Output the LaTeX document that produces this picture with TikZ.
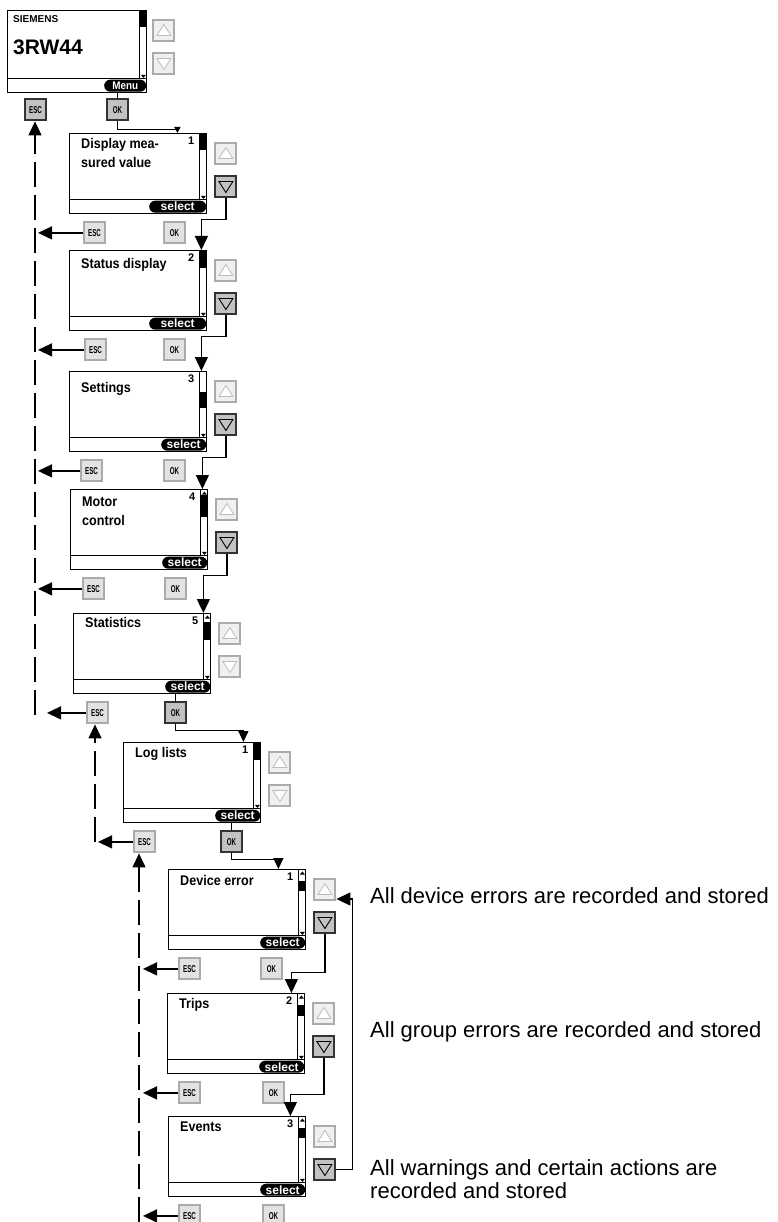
\documentclass[tikz,border=0pt]{standalone}
\usepackage{fontspec}
\setmainfont{Liberation Sans}
\newfontfamily\lcdfont[FakeStretch=0.9]{Liberation Sans Bold}
\newfontfamily\keyfont[FakeStretch=0.62]{Liberation Sans Bold}
\newfontfamily\boldfont{Liberation Sans Bold}
\usetikzlibrary{arrows.meta,calc,positioning}
\newcommand\sz[1]{\fontsize{#1}{#1}\selectfont}
\definecolor{rimgray}{HTML}{ABABAB}
\definecolor{keygray}{HTML}{E2E2E2}
\definecolor{ongray}{HTML}{C2C2C2}
\definecolor{ondark}{HTML}{333333}
\tikzset{bigpin/.style={line width=1.3pt, -{Triangle[length=14pt,width=13pt]}},
  midpin/.style={line width=1.3pt, -{Triangle[length=11pt,width=10pt]}},
  smallpin/.style={line width=1.3pt, -{Triangle[length=6pt,width=6pt]}},
  link/.style={line width=1.3pt},
  backline/.style={line width=1.2pt, dash pattern=on 25pt off 8pt},
  lcd/.style={draw, line width=1.4pt, anchor=north west, minimum width=137pt, minimum height=80pt, inner sep=0pt},
  title/.style={inner sep=0pt, align=left, font=\lcdfont\fontsize{14}{19}\selectfont},
  num/.style={inner sep=0pt, font=\boldfont\sz{11}},
  selpill/.style={fill=black, text=white, rounded corners=6pt, minimum height=12pt, inner sep=0pt, font=\boldfont\sz{12}},
  key/.style={draw=rimgray, fill=keygray, line width=2pt, minimum size=21pt, inner sep=0pt, font=\keyfont\sz{10}},
  keyon/.style={key, draw=ondark, fill=ongray},
  tri/.style={draw=rimgray!80, line width=0.8pt, fill=white},
  arrkey/.style={draw=rimgray, fill=white!94!black, line width=2pt, minimum size=21pt, inner sep=0pt},
  upkey/.style={arrkey, path picture={\draw[tri] ([shift={(-7pt,-5pt)}]path picture bounding box.center) -- ([shift={(7pt,-5pt)}]path picture bounding box.center) -- ([shift={(0pt,6pt)}]path picture bounding box.center) -- cycle;}},
  dnkey/.style={arrkey, path picture={\draw[tri] ([shift={(-7pt,5pt)}]path picture bounding box.center) -- ([shift={(7pt,5pt)}]path picture bounding box.center) -- ([shift={(0pt,-6pt)}]path picture bounding box.center) -- cycle;}},
  dnkeyon/.style={dnkey, draw=ondark, fill=ongray, tri/.style={draw=black, line width=0.9pt, fill=ongray}},
  note/.style={inner sep=0pt, align=left, font=\fontsize{22}{23}\selectfont}}

\begin{document}
\begin{tikzpicture}[x=1pt,y=1pt]
  \useasboundingbox (0,0) rectangle (777,-1222);
  % start screen
  \node[lcd, minimum width=139pt, minimum height=82pt] (s0) at (7,-10) {};
  \node[inner sep=0pt, font=\boldfont\sz{10}, below right=5pt and 6pt of s0.north west] (brand) {SIEMENS};
  \node[inner sep=0pt, font=\boldfont\sz{21}, below right=30pt and 6pt of s0.north west] (model) {3RW44};
  \node[selpill, minimum width=42pt, font=\lcdfont\sz{11}, above left=1.5pt and 1pt of s0.south east] (menu) {Menu};
  \node[upkey, below right=9pt and 5pt of s0.north east] (up0) {};
  \node[dnkey, below=10pt of up0] (dn0) {};
  \node[keyon, below right=5pt and 17pt of s0.south west] (esc0) {ESC};
  \node[keyon, below right=5pt and 99pt of s0.south west] (ok0) {OK};
  % menu screens
  \node[lcd] (s1) at (69,-133) {};
  \node[lcd] (s2) at (69,-250) {};
  \node[lcd] (s3) at (69,-371) {};
  \node[lcd] (s4) at (70,-489) {};
  \node[lcd] (s5) at (73,-613) {};
  \node[lcd] (s6) at (123,-742) {};
  \node[lcd] (s7) at (168,-869) {};
  \node[lcd] (s8) at (167,-993) {};
  \node[lcd] (s9) at (168,-1116) {};
  % scroll column and bottom strip
  \foreach \i in {0,...,9}{
    \draw[line width=1.2pt] ($(s\i.south west)+(0,15)$) -- ($(s\i.south east)+(0,15)$);
    \draw[line width=1.2pt] ($(s\i.north east)+(-8,0)$) -- ($(s\i.south east)+(-8,15)$);
    \fill ($(s\i.south east)+(-6.5,18.5)$) -- ++(5,0) -- ++(-2.5,-3) -- cycle;}
  \foreach \i/\a/\b in {0/0/17, 1/0/17, 2/0/18, 3/21/16, 4/6/22, 5/9/18, 6/0/18, 7/12/10, 8/12/11, 9/12/10}
    \fill ($(s\i.north east)+(-8,-\a)$) rectangle ++(8,-\b);
  \foreach \i in {4,5,7,8,9}
    \fill ($(s\i.north east)+(-6.5,-5.5)$) -- ++(5,0) -- ++(-2.5,3) -- cycle;
  \foreach \i/\ty/\txt/\nr in {1/5pt/{Display mea-\\sured value}/1, 2/8pt/{Status display}/2, 3/11pt/Settings/3,
      4/8pt/{Motor\\control}/4, 5/4pt/Statistics/5, 6/5pt/{Log lists}/1, 7/6pt/{Device error}/1, 8/5pt/Trips/2, 9/6pt/Events/3}{
    \node[title, below right=\ty and 12pt of s\i.north west] (ttl\i) {\txt};
    \node[num, below left=4pt and 13pt of s\i.north east] (nr\i) {\nr};}
  % keys
  \foreach \i/\sw/\ds/\os/\ex/\ox in {1/57pt/dnkeyon/key/14pt/94pt, 2/57pt/dnkeyon/key/15pt/94pt, 3/45pt/dnkeyon/key/11pt/94pt,
      4/45pt/dnkeyon/key/12pt/94pt, 5/45pt/dnkey/keyon/13pt/91pt, 6/45pt/dnkey/keyon/10pt/97pt,
      7/45pt/dnkeyon/key/10pt/92pt, 8/45pt/dnkeyon/key/11pt/95pt, 9/45pt/dnkeyon/key/10pt/94pt}{
    \node[selpill, minimum width=\sw, above left=1.5pt and 1pt of s\i.south east] (sel\i) {select};
    \node[upkey, below right=9pt and 7pt of s\i.north east] (up\i) {};
    \node[\ds, below=10pt of up\i] (dn\i) {};
    \node[key, below right=7pt and \ex of s\i.south west] (esc\i) {ESC};
    \node[\os, below right=7pt and \ox of s\i.south west] (ok\i) {OK};}
  % OK opens the next level
  \draw[link] (ok0.north) -- (ok0.north |- menu.south);
  \draw[smallpin] (ok0.south) -- ++(0,-8) -| ($(s1.north east)+(-30,0)$);
  \draw[link] (ok5.north) -- (ok5.north |- sel5.south);
  \draw[midpin] (ok5.south) -- ++(0,-6) -| ($(s6.north east)+(-18,0)$);
  \draw[link] (ok6.north) -- (ok6.north |- sel6.south);
  \draw[midpin] (ok6.south) -- ++(0,-6) -| ($(s7.north east)+(-28,0)$);
  % down key to next entry
  \foreach \a/\b/\g/\h in {1/2/5/6, 2/3/5/6, 3/4/5/6, 4/5/5/8, 7/8/22/14, 8/9/20/16}
    \draw[bigpin] (dn\a.south) |- ($(s\a.south east)+(0,-\g)$) -| ($(s\b.north east)+(-\h,0)$);
  \draw[bigpin] (dn9.east) -- ++(16,0) |- ($(up7.south east)+(0,2)$);
  % ESC goes back
  \coordinate (back1) at (35,-715);
  \coordinate (back2) at (95,-842);
  \coordinate (back3) at (139,-1222);
  \draw[bigpin, backline] (back1) -- (back1 |- esc0.south);
  \draw[bigpin, backline] (back2) -- (back2 |- esc5.south);
  \draw[bigpin, backline] (back3) -- (back3 |- esc6.south);
  \foreach \i/\c/\s in {1/back1/3pt, 2/back1/3pt, 3/back1/3pt, 4/back1/3pt, 5/back1/12pt, 6/back2/3pt, 7/back3/4pt, 8/back3/4pt, 9/back3/4pt}
    \draw[bigpin, shorten >=\s] (esc\i.west) -- (esc\i.west -| \c);
  % notes
  \node[note, anchor=base west] (msg1) at (370,-903) {All device errors are recorded and stored};
  \node[note, anchor=base west] (msg2) at (370,-1037) {All group errors are recorded and stored};
  \node[note, anchor=north west] (msg3) at (370,-1159) {All warnings and certain actions are\\recorded and stored};
\end{tikzpicture}
\end{document}
